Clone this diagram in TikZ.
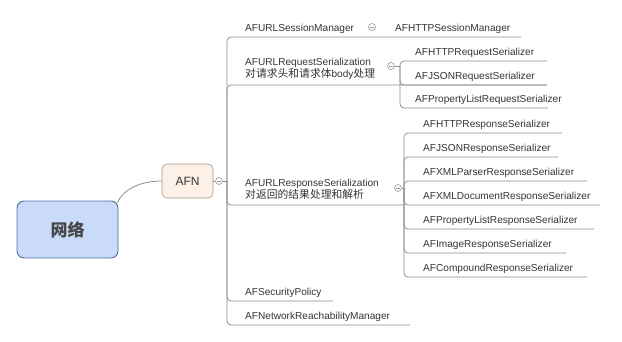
\documentclass[tikz,border=0pt]{standalone}
\usepackage{fontspec}
\setmainfont{Liberation Sans}
\newfontfamily\cjkfont{Noto Sans CJK SC}
\usetikzlibrary{calc}
\definecolor{txt}{HTML}{333333}
\definecolor{edge}{HTML}{8C8C8C}
\definecolor{foldc}{HTML}{9A9A9A}
\definecolor{rootfill}{HTML}{C9DBF8}
\definecolor{rootline}{HTML}{4F6E9E}
\definecolor{mainfill}{HTML}{FDF1E7}
\definecolor{mainline}{HTML}{A89684}
\newcommand{\zh}[1]{{\cjkfont\fontsize{10.8}{12.5}\selectfont #1}}
\begin{document}
\begin{tikzpicture}[x=1pt,y=-1pt,
  leaf/.style={anchor=base west, inner sep=0pt, text=txt, align=left,
    font=\fontsize{10.1}{12.5}\selectfont},
  branch/.style={draw=edge, line width=0.8pt, rounded corners=4pt},
  fold/.style={circle, draw=foldc, fill=white, minimum size=7pt, inner sep=0pt,
    line width=0.6pt,
    path picture={\draw[foldc, line width=0.6pt]
      ([xshift=-2pt]path picture bounding box.center) --
      ([xshift=2pt]path picture bounding box.center);}},
  rootbox/.style={draw=rootline, fill=rootfill, line width=0.9pt,
    rounded corners=7pt, minimum width=101pt, minimum height=57pt,
    text=txt!90, inner sep=0pt},
  mainbox/.style={draw=mainline, fill=mainfill, line width=0.6pt,
    rounded corners=5pt, minimum width=51pt, minimum height=34pt,
    text=txt, inner sep=0pt, font=\fontsize{12}{14}\selectfont},
]
\useasboundingbox (0,0) rectangle (622,341);

% central topics
\node[rootbox] (net) at (67.5,229.5) {\cjkfont\fontsize{17}{20}\selectfont\bfseries 网络};
\node[mainbox] (afn) at (187.5,181) {AFN};
\draw[edge, line width=0.8pt] ([shift={(-1,2)}]net.north east)
  .. controls +(6,-14) and +(-20,0) .. (afn.west);

% first level
\node[fold] (f0) at (219,181) {};
\coordinate (hub) at (227,181);
\draw[branch] (afn.east) -- (f0);
\draw[branch] (f0) -- (hub);

\node[leaf] (sess) at (245,31) {AFURLSessionManager};
\node[fold] (fs) at (372,27) {};
\node[leaf] (httpsess) at (395,31) {AFHTTPSessionManager};
% two-line topics: the base anchor sits on the last line
\node[leaf] (req) at (245,77.5) {AFURLRequestSerialization\\\zh{对请求头和请求体}body\zh{处理}};
\node[leaf] (resp) at (245,198.5) {AFURLResponseSerialization\\\zh{对返回的结果处理和解析}};
\node[leaf] (sec) at (245,295) {AFSecurityPolicy};
\node[leaf] (reach) at (245,319) {AFNetworkReachabilityManager};

\coordinate (e-sess) at (521,37);
\coordinate (e-req) at (547,85);
\coordinate (e-resp) at (404,205);
\coordinate (e-sec) at (333,301);
\coordinate (e-reach) at (410,325);

\draw[branch] (hub) |- (e-sess);
\draw[branch] (hub) |- (e-req);
\draw[branch] (hub) |- (e-resp);
\draw[branch] (hub) |- (e-sec);
\draw[branch] (hub) |- (e-reach);

% request serializers
\node[fold] (fq) at (391,66) {};
\coordinate (rq) at (400,66);
\draw[branch] (fq) -- (rq);
\node[leaf] (rq1) at (415,55) {AFHTTPRequestSerializer};
\node[leaf] (rq2) at (415,79) {AFJSONRequestSerializer};
\node[leaf] (rq3) at (415,102) {AFPropertyListRequestSerializer};
\coordinate (e-rq1) at (547,61);
\coordinate (e-rq2) at (547,85);
\coordinate (e-rq3) at (548,108);
\draw[branch] (rq) |- (e-rq1);
\draw[branch] (rq) |- (e-rq2);
\draw[branch] (rq) |- (e-rq3);

% response serializers
\node[fold] (fr) at (398,188) {};
\coordinate (rs) at (404,188);
\draw[branch] (fr) -- (rs);
\node[leaf] (rs1) at (423,127) {AFHTTPResponseSerializer};
\node[leaf] (rs2) at (423,151) {AFJSONResponseSerializer};
\node[leaf] (rs3) at (423,175) {AFXMLParserResponseSerializer};
\node[leaf] (rs4) at (423,199) {AFXMLDocumentResponseSerializer};
\node[leaf] (rs5) at (423,223) {AFPropertyListResponseSerializer};
\node[leaf] (rs6) at (423,247) {AFImageResponseSerializer};
\node[leaf] (rs7) at (423,271) {AFCompoundResponseSerializer};
\coordinate (e-rs1) at (562,133);
\coordinate (e-rs2) at (558,157);
\coordinate (e-rs3) at (587,181);
\coordinate (e-rs4) at (600,205);
\coordinate (e-rs5) at (594,229);
\coordinate (e-rs6) at (566,253);
\coordinate (e-rs7) at (587,277);
\foreach \k in {1,...,7} {\draw[branch] (rs) |- (e-rs\k);}
\end{tikzpicture}
\end{document}
